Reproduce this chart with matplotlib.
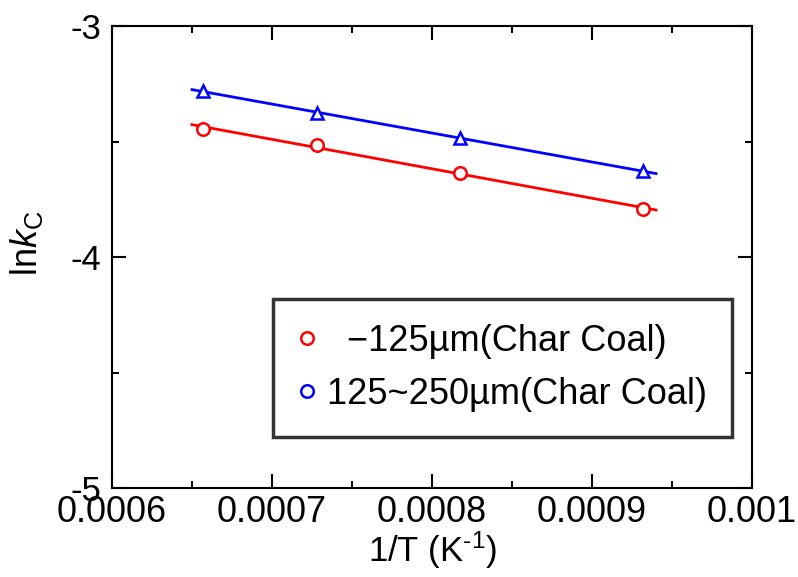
import matplotlib
matplotlib.use("Agg")
import matplotlib.pyplot as plt
import numpy as np
from matplotlib.lines import Line2D
from matplotlib.ticker import MultipleLocator, FuncFormatter

plt.rcParams["font.family"] = ["Liberation Sans", "DejaVu Sans"]
plt.rcParams["mathtext.fontset"] = "custom"
plt.rcParams["mathtext.rm"] = "Liberation Sans"
plt.rcParams["mathtext.it"] = "Liberation Sans:italic"
plt.rcParams["axes.unicode_minus"] = False

# data (1/T in K^-1, ln kc)
inv_t = [0.0006566, 0.0007283, 0.0008177, 0.0009320]
lnk_fine = [-3.446, -3.515, -3.636, -3.792]
lnk_coarse = [-3.281, -3.377, -3.485, -3.628]
labels = ["  \u2212125\u00b5m(Char Coal)", "125~250\u00b5m(Char Coal)"]
fit_range = [0.00065, 0.00094]

fig = plt.figure(figsize=(7.98, 5.77), dpi=100)
ax = fig.add_axes([0.1404, 0.1542, 0.802, 0.8007])

xs = np.array(fit_range)
for y, color, marker in [(lnk_fine, "red", "o"), (lnk_coarse, "blue", "^")]:
    p = np.polyfit(inv_t, y, 1)
    ax.plot(xs, np.polyval(p, xs), color=color, lw=2.0)
    ax.plot(inv_t, y, linestyle="none", marker=marker, markersize=9,
            markerfacecolor="white", markeredgecolor=color, markeredgewidth=1.8)

ax.set_xlim(0.0006, 0.001)
ax.set_ylim(-5, -3)
ax.xaxis.set_major_locator(MultipleLocator(0.0001))
ax.xaxis.set_minor_locator(MultipleLocator(0.00005))
ax.yaxis.set_major_locator(MultipleLocator(1))
ax.yaxis.set_minor_locator(MultipleLocator(0.5))
ax.xaxis.set_major_formatter(FuncFormatter(lambda v, pos: f"{v:g}"))
ax.yaxis.set_major_formatter(FuncFormatter(lambda v, pos: f"{v:g}"))
ax.tick_params(which="both", direction="in", top=True, right=True, width=1.5)
ax.tick_params(axis="x", labelsize=26, pad=5)
ax.tick_params(axis="y", labelsize=25, pad=8)
ax.tick_params(which="major", length=10)
ax.tick_params(which="minor", length=5)
for s in ax.spines.values():
    s.set_linewidth(1.5)

ax.set_xlabel(r"1/T (K$^{\text{-1}}$)", fontsize=25, labelpad=0)
ax.set_ylabel(r"ln$k_{\rm C}$", fontsize=26)
ax.yaxis.set_label_coords(-0.105, 0.53)

handles = [
    Line2D([], [], linestyle="none", marker="o", markersize=9,
           markerfacecolor="white", markeredgecolor="red", markeredgewidth=1.8),
    Line2D([], [], linestyle="none", marker="o", markersize=9,
           markerfacecolor="white", markeredgecolor="blue", markeredgewidth=1.8),
]
leg = ax.legend(handles, labels, loc="lower right", bbox_to_anchor=(0.969, 0.11),
                fontsize=26, frameon=True, fancybox=False, borderpad=0.7,
                labelspacing=0.5, handlelength=0.5, handletextpad=0.3,
                borderaxespad=0)
leg.get_frame().set_edgecolor("black")
leg.get_frame().set_linewidth(2.5)

fig.savefig("out.png", dpi=100)
